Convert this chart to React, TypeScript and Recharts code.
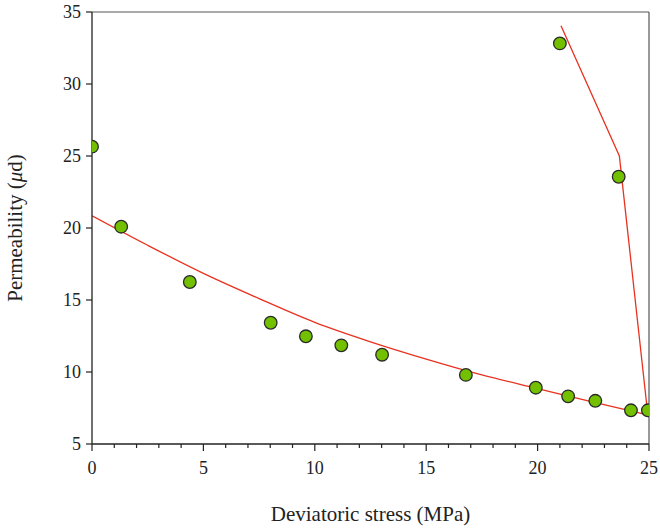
import {
  ComposedChart,
  Line,
  ReferenceLine,
  Scatter,
  XAxis,
  YAxis,
} from "recharts";

// measured points (MPa, μd)
const stressPts = [0, 1.31, 4.39, 8.02, 9.6, 11.19, 13.02, 16.78, 19.92, 21.37, 22.59, 24.19, 24.95, 21.0, 23.64];
const permPts = [25.65, 20.09, 16.25, 13.42, 12.48, 11.85, 11.2, 9.8, 8.91, 8.31, 8.0, 7.34, 7.34, 32.82, 23.56];

// fitted curve (red)
const fitStress = [0, 2.5, 5, 7.5, 10, 12.5, 15, 17.5, 20, 22.5, 25];
const fitPerm = [20.85, 18.8, 16.85, 15.1, 13.45, 12.1, 10.9, 9.8, 8.85, 7.9, 7.0];

// steep drop line near failure
const dropStress = [21.05, 23.67, 24.95];
const dropPerm = [34.05, 25.0, 7.0];

const X_TICKS = [0, 1, 2, 3, 4, 5, 6, 7, 8, 9, 10, 11, 12, 13, 14, 15, 16, 17, 18, 19, 20, 21, 22, 23, 24, 25];
const Y_TICKS = [5, 10, 15, 20, 25, 30, 35];

const FONT = "Liberation Serif, Tinos, Times New Roman, Times, Noto Serif, DejaVu Serif, serif";
const INK = "#222";
const RED = "#e8321f";
const GREEN = "#72c000";

const points = stressPts.map((x, i) => ({ x, y: permPts[i] }));
const fit = fitStress.map((x, i) => ({ x, y: fitPerm[i] }));
const drop = dropStress.map((x, i) => ({ x, y: dropPerm[i] }));

function StressTick({ x, y, payload }: any) {
  const major = payload.value % 5 === 0;
  return (
    <g>
      <line x1={x} x2={x} y1={y} y2={y + (major ? 7 : 4)} stroke={INK} strokeWidth={1.2} />
      {major && (
        <text x={x} y={y + 30} textAnchor="middle" fontFamily={FONT} fontSize={18} fill={INK}>
          {payload.value}
        </text>
      )}
    </g>
  );
}

function PermLabel({ viewBox }: any) {
  const cx = viewBox.x - 17;
  const cy = viewBox.y + viewBox.height / 2;
  return (
    <text
      x={cx}
      y={cy}
      transform={`rotate(-90 ${cx} ${cy})`}
      textAnchor="middle"
      dominantBaseline="central"
      fontFamily={FONT}
      fontSize={21}
      fill={INK}
    >
      Permeability (<tspan fontStyle="italic">μ</tspan>d)
    </text>
  );
}

function Dot({ cx, cy }: any) {
  return <circle cx={cx} cy={cy} r={6.3} fill={GREEN} stroke="#2a2a2a" strokeWidth={1.3} />;
}

export default function App() {
  return (
    <div style={{ position: "fixed", left: 0, top: 0, background: "#fff", fontFamily: FONT }}>
      <ComposedChart width={660} height={528} margin={{ top: 12, right: 11, bottom: 0, left: 32 }}>
        <XAxis
          type="number"
          dataKey="x"
          domain={[0, 25]}
          ticks={X_TICKS}
          interval={0}
          tickSize={0}
          tickMargin={0}
          tickLine={false}
          tick={<StressTick />}
          height={84}
          axisLine={{ stroke: INK, strokeWidth: 1.3 }}
          allowDataOverflow
          label={{
            value: "Deviatoric stress (MPa)",
            position: "insideBottom",
            offset: 7,
            fill: INK,
            fontFamily: FONT,
            fontSize: 21,
          }}
        />
        <YAxis
          type="number"
          dataKey="y"
          domain={[5, 35]}
          ticks={Y_TICKS}
          interval={0}
          width={60}
          tickSize={6}
          tickMargin={5}
          tickLine={{ stroke: INK, strokeWidth: 1.2 }}
          axisLine={{ stroke: INK, strokeWidth: 1.3 }}
          tick={{ fill: INK, fontFamily: FONT, fontSize: 18 }}
          allowDataOverflow
          label={(props: any) => <PermLabel {...props} />}
        />
        <ReferenceLine y={35} stroke="#555" strokeWidth={1.2} />
        <ReferenceLine x={25} stroke="#555" strokeWidth={1.2} />
        <Line
          data={fit}
          dataKey="y"
          type="monotone"
          stroke={RED}
          strokeWidth={1.3}
          dot={false}
          activeDot={false}
          isAnimationActive={false}
        />
        <Line
          data={drop}
          dataKey="y"
          type="linear"
          stroke={RED}
          strokeWidth={1.3}
          dot={false}
          activeDot={false}
          isAnimationActive={false}
        />
        <Scatter data={points} dataKey="y" shape={<Dot />} isAnimationActive={false} />
      </ComposedChart>
    </div>
  );
}
